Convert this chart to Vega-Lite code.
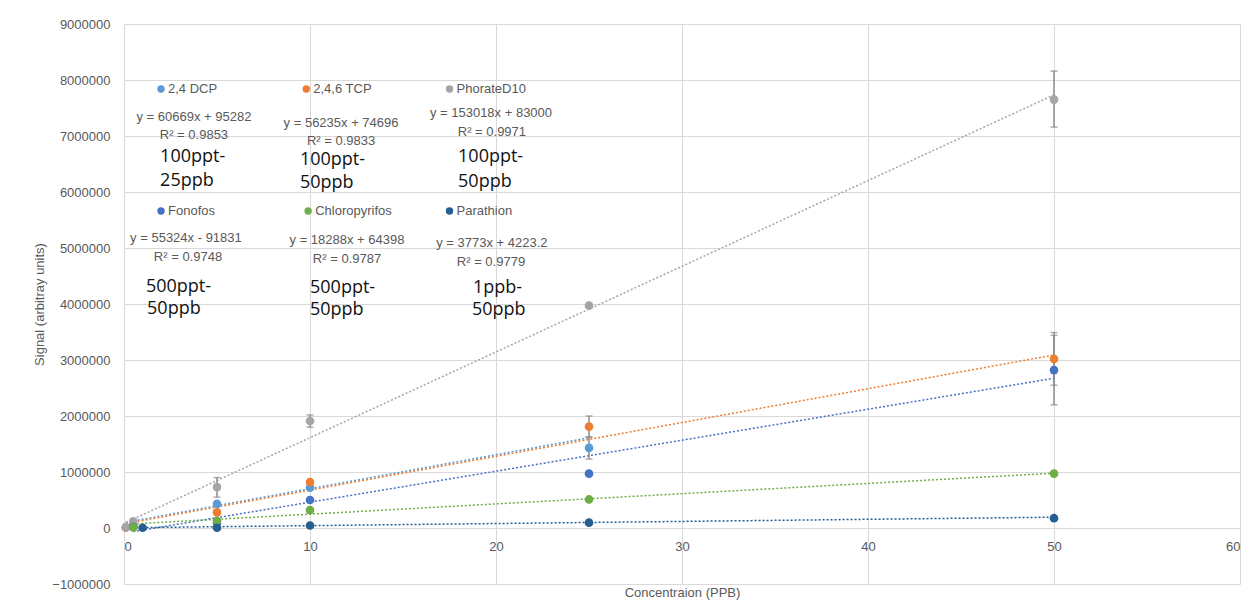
{
  "$schema": "https://vega.github.io/schema/vega-lite/v6.json",
  "width": 1116,
  "height": 560,
  "autosize": {"type": "none"},
  "padding": {"left": 124, "top": 24, "right": 4, "bottom": 18},
  "background": "white",
  "config": {
    "view": {"stroke": null},
    "axis": {
      "gridColor": "#D9D9D9",
      "labelColor": "#595959",
      "titleColor": "#595959",
      "labelFont": "Liberation Sans",
      "titleFont": "Liberation Sans",
      "titleFontWeight": "normal",
      "labelFontSize": 13,
      "titleFontSize": 13,
      "ticks": false,
      "domain": false
    }
  },
  "datasets": {
    "points": [
      {"s": "2,4 DCP", "x": 0.1, "y": 10000},
      {"s": "2,4 DCP", "x": 0.5, "y": 40000},
      {"s": "2,4 DCP", "x": 5, "y": 430000},
      {"s": "2,4 DCP", "x": 10, "y": 720000},
      {"s": "2,4 DCP", "x": 25, "y": 1430000},
      {"s": "2,4,6 TCP", "x": 0.1, "y": 8000},
      {"s": "2,4,6 TCP", "x": 0.5, "y": 30000},
      {"s": "2,4,6 TCP", "x": 5, "y": 280000},
      {"s": "2,4,6 TCP", "x": 10, "y": 820000},
      {"s": "2,4,6 TCP", "x": 25, "y": 1810000},
      {"s": "2,4,6 TCP", "x": 50, "y": 3020000},
      {"s": "PhorateD10", "x": 0.1, "y": 15000},
      {"s": "PhorateD10", "x": 0.5, "y": 120000},
      {"s": "PhorateD10", "x": 5, "y": 730000},
      {"s": "PhorateD10", "x": 10, "y": 1910000},
      {"s": "PhorateD10", "x": 25, "y": 3970000},
      {"s": "PhorateD10", "x": 50, "y": 7650000},
      {"s": "Fonofos", "x": 0.5, "y": 20000},
      {"s": "Fonofos", "x": 5, "y": 90000},
      {"s": "Fonofos", "x": 10, "y": 500000},
      {"s": "Fonofos", "x": 25, "y": 970000},
      {"s": "Fonofos", "x": 50, "y": 2820000},
      {"s": "Chloropyrifos", "x": 0.5, "y": 10000},
      {"s": "Chloropyrifos", "x": 5, "y": 130000},
      {"s": "Chloropyrifos", "x": 10, "y": 320000},
      {"s": "Chloropyrifos", "x": 25, "y": 510000},
      {"s": "Chloropyrifos", "x": 50, "y": 970000},
      {"s": "Parathion", "x": 1, "y": 4000},
      {"s": "Parathion", "x": 5, "y": 5000},
      {"s": "Parathion", "x": 10, "y": 45000},
      {"s": "Parathion", "x": 25, "y": 95000},
      {"s": "Parathion", "x": 50, "y": 175000}
    ],
    "trends": [
      {"s": "2,4 DCP", "x": 0.1, "y": 101349},
      {"s": "2,4 DCP", "x": 25, "y": 1611957},
      {"s": "2,4,6 TCP", "x": 0.1, "y": 80000},
      {"s": "2,4,6 TCP", "x": 50, "y": 3090000},
      {"s": "PhorateD10", "x": 0.1, "y": 98302},
      {"s": "PhorateD10", "x": 50, "y": 7733900},
      {"s": "Fonofos", "x": 0.5, "y": -64169},
      {"s": "Fonofos", "x": 50, "y": 2674369},
      {"s": "Chloropyrifos", "x": 0.5, "y": 73542},
      {"s": "Chloropyrifos", "x": 50, "y": 978798},
      {"s": "Parathion", "x": 1, "y": 7996},
      {"s": "Parathion", "x": 50, "y": 192873}
    ],
    "errs": [
      {"s": "PhorateD10", "x": 5, "y": 550000, "y2": 900000},
      {"s": "PhorateD10", "x": 10, "y": 1800000, "y2": 2020000},
      {"s": "PhorateD10", "x": 50, "y": 7160000, "y2": 8160000},
      {"s": "2,4,6 TCP", "x": 25, "y": 1620000, "y2": 2000000},
      {"s": "2,4,6 TCP", "x": 50, "y": 2550000, "y2": 3490000},
      {"s": "2,4 DCP", "x": 25, "y": 1230000, "y2": 1630000},
      {"s": "Fonofos", "x": 50, "y": 2200000, "y2": 3440000}
    ],
    "legend": [
      {"s": "2,4 DCP", "x": 1.99, "y": 7839000},
      {"s": "2,4,6 TCP", "x": 9.8, "y": 7839000},
      {"s": "PhorateD10", "x": 17.5, "y": 7839000},
      {"s": "Fonofos", "x": 1.99, "y": 5661000},
      {"s": "Chloropyrifos", "x": 9.9, "y": 5661000},
      {"s": "Parathion", "x": 17.5, "y": 5661000}
    ],
    "eqs": [
      {"label": "y = 60669x + 95282", "x": 3.76, "y": 7339000},
      {"label": "R² = 0.9853", "x": 3.76, "y": 7018000},
      {"label": "y = 56235x + 74696", "x": 11.67, "y": 7232000},
      {"label": "R² = 0.9833", "x": 11.67, "y": 6911000},
      {"label": "y = 153018x + 83000", "x": 19.73, "y": 7411000},
      {"label": "R² = 0.9971", "x": 19.78, "y": 7071000},
      {"label": "y = 55324x - 91831", "x": 3.33, "y": 5179000},
      {"label": "R² = 0.9748", "x": 3.44, "y": 4839000},
      {"label": "y = 18288x + 64398", "x": 11.99, "y": 5143000},
      {"label": "R² = 0.9787", "x": 11.99, "y": 4804000},
      {"label": "y = 3773x + 4223.2", "x": 19.78, "y": 5089000},
      {"label": "R² = 0.9779", "x": 19.73, "y": 4750000}
    ],
    "notes": [
      {"label": "100ppt-", "x": 1.94, "y": 6625000},
      {"label": "25ppb", "x": 1.94, "y": 6196000},
      {"label": "100ppt-", "x": 9.46, "y": 6571000},
      {"label": "50ppb", "x": 9.46, "y": 6161000},
      {"label": "100ppt-", "x": 17.96, "y": 6625000},
      {"label": "50ppb", "x": 17.96, "y": 6179000},
      {"label": "500ppt-", "x": 1.18, "y": 4304000},
      {"label": "50ppb", "x": 1.24, "y": 3911000},
      {"label": "500ppt-", "x": 10.0, "y": 4286000},
      {"label": "50ppb", "x": 10.0, "y": 3893000},
      {"label": "1ppb-", "x": 18.76, "y": 4286000},
      {"label": "50ppb", "x": 18.71, "y": 3893000}
    ]
  },
  "encoding": {
    "x": {
      "field": "x",
      "type": "quantitative",
      "scale": {"domain": [0, 60], "nice": false, "zero": false},
      "axis": {
        "title": "Concentraion (PPB)",
        "values": [0, 10, 20, 30, 40, 50, 60],
        "offset": -56,
        "labelPadding": 12,
        "titlePadding": 33
      }
    },
    "y": {
      "field": "y",
      "type": "quantitative",
      "scale": {"domain": [-1000000, 9000000], "nice": false, "zero": false},
      "axis": {
        "title": "Signal (arbitray units)",
        "values": [-1000000, 0, 1000000, 2000000, 3000000, 4000000, 5000000, 6000000, 7000000, 8000000, 9000000],
        "format": "d",
        "labelPadding": 14,
        "titlePadding": 5
      }
    }
  },
  "layer": [
    {
      "data": {"name": "trends"},
      "mark": {"type": "line", "strokeDash": [2, 2], "strokeWidth": 1.5},
      "encoding": {
        "color": {
          "field": "s",
          "type": "nominal",
          "scale": {
            "domain": ["2,4 DCP", "2,4,6 TCP", "PhorateD10", "Fonofos", "Chloropyrifos", "Parathion"],
            "range": ["#5B9BD5", "#ED7D31", "#A5A5A5", "#4472C4", "#70AD47", "#255E91"]
          },
          "legend": null
        }
      }
    },
    {
      "data": {"name": "errs"},
      "mark": {"type": "rule", "color": "#8C8C8C", "strokeWidth": 1.5},
      "encoding": {"y2": {"field": "y2"}}
    },
    {
      "data": {"name": "errs"},
      "mark": {"type": "tick", "orient": "horizontal", "color": "#8C8C8C", "size": 7, "thickness": 1.5}
    },
    {
      "data": {"name": "errs"},
      "mark": {"type": "tick", "orient": "horizontal", "color": "#8C8C8C", "size": 7, "thickness": 1.5},
      "encoding": {"y": {"field": "y2", "type": "quantitative"}}
    },
    {
      "data": {"name": "points"},
      "mark": {"type": "circle", "size": 75, "opacity": 1},
      "encoding": {"color": {"field": "s", "type": "nominal"}}
    },
    {
      "data": {"name": "legend"},
      "mark": {"type": "circle", "size": 55, "opacity": 1},
      "encoding": {"color": {"field": "s", "type": "nominal"}}
    },
    {
      "data": {"name": "legend"},
      "mark": {"type": "text", "align": "left", "baseline": "middle", "dx": 7, "font": "Liberation Sans", "fontSize": 13, "color": "#595959"},
      "encoding": {"text": {"field": "s"}}
    },
    {
      "data": {"name": "eqs"},
      "mark": {"type": "text", "align": "center", "baseline": "middle", "font": "Liberation Sans", "fontSize": 13, "color": "#595959"},
      "encoding": {"text": {"field": "label"}}
    },
    {
      "data": {"name": "notes"},
      "mark": {"type": "text", "align": "left", "baseline": "middle", "font": "Open Sans", "fontSize": 18, "color": "#111111"},
      "encoding": {"text": {"field": "label"}}
    }
  ]
}
